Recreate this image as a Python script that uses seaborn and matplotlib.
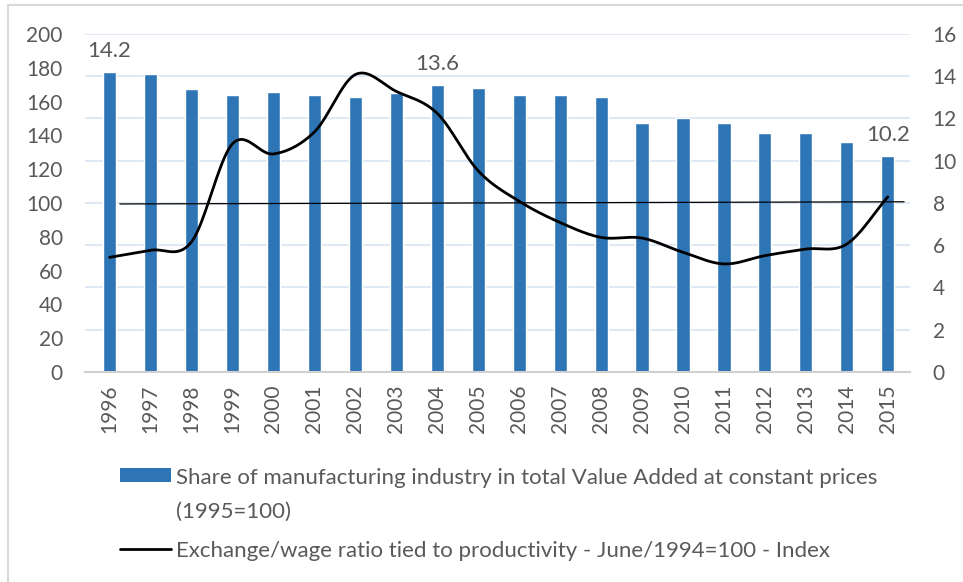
import numpy as np
import pandas as pd
import seaborn as sns
import matplotlib.pyplot as plt
from matplotlib.patches import Patch, Rectangle
from matplotlib.lines import Line2D
from matplotlib.legend_handler import HandlerPatch

# data
years = [1996, 1997, 1998, 1999, 2000, 2001, 2002, 2003, 2004, 2005,
         2006, 2007, 2008, 2009, 2010, 2011, 2012, 2013, 2014, 2015]
share = [14.2, 14.1, 13.4, 13.1, 13.25, 13.1, 13.0, 13.2, 13.6, 13.45,
         13.1, 13.1, 13.0, 11.8, 12.0, 11.8, 11.3, 11.3, 10.9, 10.2]
exch_wage = [67.8, 72, 77, 135, 129, 142, 176, 166, 153, 119,
             101, 88.4, 79.6, 79.2, 70.8, 63.9, 68.8, 72.7, 75.7, 103.6]
# thin reference line near 100
ref_pos = [0.25, 19.4]
ref_val = [99.4, 100.7]
labelled_years = [1996, 2004, 2015]

share_label = "Share of manufacturing industry in total Value Added at constant prices\n(1995=100)"
line_label = "Exchange/wage ratio tied to productivity - June/1994=100 - Index"

bar_color = "#2E75B6"
text_color = "#595959"
grid_color = "#D9E5F4"

sns.set_theme(style="white")
plt.rcParams['font.family'] = ['Lato', 'DejaVu Sans']

df = pd.DataFrame({"year": [str(y) for y in years], "share": share, "exch": exch_wage})

fig = plt.figure(figsize=(9.63, 5.82), dpi=100)
ax = fig.add_axes([0.0883, 0.361, 0.857, 0.5806])  # left axis: index (line)
ax2 = ax.twinx()  # right axis: share (bars)

# bars on right axis
sns.barplot(data=df, x="year", y="share", ax=ax2, color=bar_color,
            width=0.32, saturation=1, zorder=2)
for i, y in enumerate(years):
    if y in labelled_years:
        ax2.annotate(f"{share[i]:.1f}", (i, share[i]), xytext=(0, 8),
                     textcoords="offset points", ha="center", va="bottom",
                     fontsize=16, color=text_color)

# smooth line on left axis (Excel style smoothed)
x = np.arange(len(years))
xs = np.linspace(0, len(years) - 1, 400)
# Catmull-Rom spline through the points
pts = np.array(exch_wage, dtype=float)
ext = np.concatenate([[2 * pts[0] - pts[1]], pts, [2 * pts[-1] - pts[-2]]])
ys = []
for t in xs:
    i = min(int(np.floor(t)), len(pts) - 2)
    u = t - i
    p0, p1, p2, p3 = ext[i], ext[i + 1], ext[i + 2], ext[i + 3]
    ys.append(0.5 * ((2 * p1) + (-p0 + p2) * u + (2 * p0 - 5 * p1 + 4 * p2 - p3) * u ** 2
                     + (-p0 + 3 * p1 - 3 * p2 + p3) * u ** 3))
ax.plot(xs, ys, color="black", lw=2, zorder=5)
ax.plot(ref_pos, ref_val, color="black", lw=0.9, zorder=5)

# put line axis on top of bars
ax.set_zorder(ax2.get_zorder() + 1)
ax.patch.set_visible(False)

ax.set_ylim(0, 200)
ax.set_yticks(range(0, 201, 20))
ax2.set_ylim(0, 16)
ax2.set_yticks(range(0, 17, 2))
ax.set_xlim(-0.6, len(years) - 0.45)

for a in (ax, ax2):
    for s in a.spines.values():
        s.set_visible(False)
    a.tick_params(axis="y", length=0, labelsize=15, labelcolor=text_color)
    a.set_xlabel("")
    a.set_ylabel("")
ax.tick_params(axis="y", pad=16)
ax2.tick_params(axis="y", pad=16)
ax2.grid(axis="y", color=grid_color, lw=1.2, zorder=0)
ax2.set_axisbelow(True)
ax.grid(False)
ax.spines["bottom"].set_visible(True)
ax.spines["bottom"].set_color("#D0D0D0")
ax.spines["bottom"].set_linewidth(1.5)

ax.set_xticks(x)
ax.set_xticklabels([str(y) for y in years], rotation=90, fontsize=15, color=text_color)
ax.tick_params(axis="x", length=0, pad=9)
ax2.tick_params(axis="x", length=0, labelbottom=False)


# legend: bar swatch sits level with the first text line
def top_patch(legend, orig_handle, xdescent, ydescent, width, height, fontsize):
    return Rectangle((-xdescent, -ydescent + 0.95 * fontsize), width, 0.62 * fontsize)


handles = [Patch(facecolor=bar_color, edgecolor="none"),
           Line2D([0], [0], color="black", lw=2)]
leg = fig.legend(handles, [share_label, line_label], loc="upper left",
                 bbox_to_anchor=(0.115, 0.212), frameon=False, fontsize=16,
                 labelcolor=text_color, handlelength=2.3, handleheight=0.7,
                 handletextpad=0.25, labelspacing=0.85, borderaxespad=0,
                 handler_map={Patch: HandlerPatch(patch_func=top_patch)})
leg.get_texts()[0].set_linespacing(1.9)

# outer chart border (only left and top edges visible in the crop)
fig.patches.append(Rectangle((0.008, -0.05), 1.05, 1.041, transform=fig.transFigure,
                             fill=False, edgecolor="#D9D9D9", lw=1.5))

fig.savefig("out.png", dpi=100)
